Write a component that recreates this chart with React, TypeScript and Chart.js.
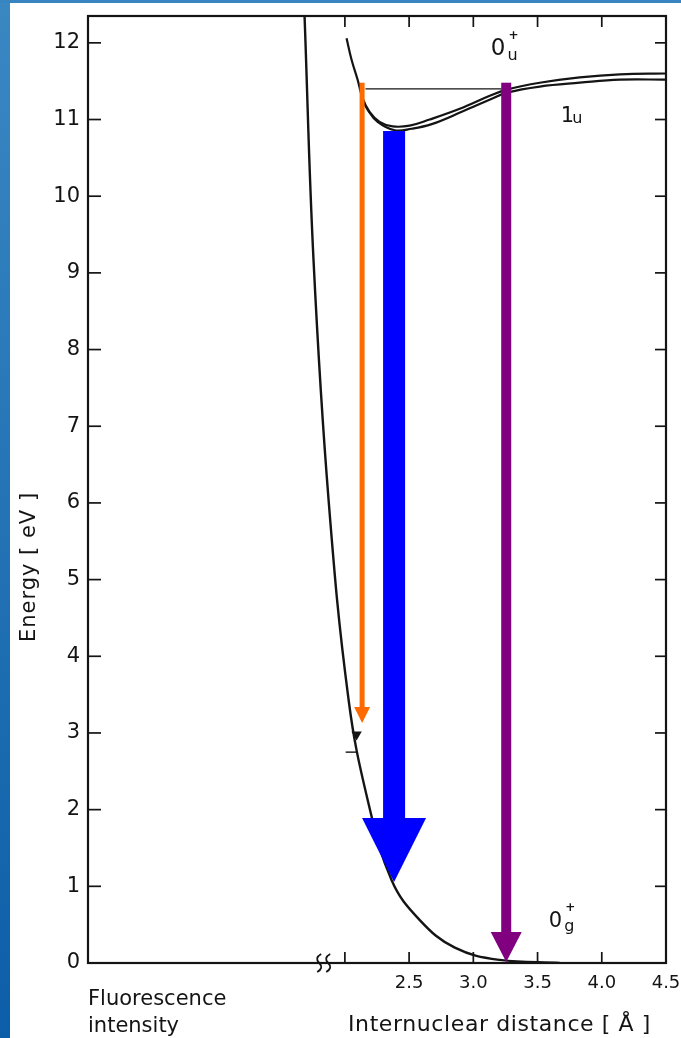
import React, { useEffect, useRef } from 'react';
import { Chart, registerables } from 'chart.js';

Chart.register(...registerables);

// ---- data (x: internuclear distance [Å], y: energy [eV]) ----
const groundX = [1.686, 1.756, 1.873, 2.029, 2.177, 2.364, 2.583, 2.856, 3.206, 3.673];
const groundY = [12.35, 9.16, 6.04, 3.43, 2.13, 1.08, 0.56, 0.2, 0.04, 0.0];

const upperX = [2.013, 2.052, 2.099, 2.138, 2.192, 2.27, 2.372, 2.504, 2.66, 2.894, 3.128, 3.26, 3.517, 3.829, 4.141, 4.5];
const upperY = [12.06, 11.78, 11.52, 11.28, 11.1, 10.97, 10.91, 10.92, 11.0, 11.14, 11.31, 11.39, 11.48, 11.55, 11.59, 11.6];

const lowerX = [2.13, 2.177, 2.255, 2.388, 2.52, 2.676, 2.91, 3.144, 3.26, 3.517, 3.829, 4.141, 4.5];
const lowerY = [11.28, 11.13, 10.97, 10.86, 10.88, 10.94, 11.1, 11.27, 11.35, 11.43, 11.48, 11.52, 11.52];

const levelX = [2.16, 3.22];
const levelY = [11.4, 11.4];

const markX = [2.006, 2.091];
const markY = [2.75, 2.75];
const headMarkX = [2.091];
const headMarkY = [2.98];

const arrowX = [2.134, 2.383, 3.256];
const arrowFrom = [11.48, 10.85, 11.48];
const arrowTo = [3.13, 1.057, 0.013];

const xTickValues = [2.0, 2.5, 3.0, 3.5, 4.0, 4.5];
const xTickLabels = ['', '2.5', '3.0', '3.5', '4.0', '4.5'];
const yTickValues = [0, 1, 2, 3, 4, 5, 6, 7, 8, 9, 10, 11, 12];
const yTickLabels = ['0', '1', '2', '3', '4', '5', '6', '7', '8', '9', '10', '11', '12'];
const breakX = [1.8, 1.87];

const stateMain = ['0', '1', '0'];
const stateSub = ['u', 'u', 'g'];
const stateSup = ['+', '', '+'];
const stateX = [3.136, 3.681, 3.588];
const stateY = [11.84, 10.97, 0.47];

const yTitle = 'Energy [ eV ]';
const xTitle = 'Internuclear distance [ Å ]';
const leftNote = ['Fluorescence', 'intensity'];

// ---- styles ----
const FONT = '"DejaVu Sans", sans-serif';
const INK = '#141414';
const arrowColors = ['#ff6a00', '#0000ff', '#800080'];
const arrowShaft = [5, 22, 10];
const arrowHeadW = [16, 64, 31];
const arrowHeadL = [16, 64, 30];
const stateMainSize = [23, 21, 21];
const stateSubDx = [2, -2, 2];
const stateSubDy = [5, 1, 4];

const pts = (xs: number[], ys: number[]) => xs.map((v, i) => ({ x: v, y: ys[i] }));

const figurePlugin = {
  id: 'figure',
  beforeDatasetsDraw(chart: any) {
    const { ctx, chartArea: a, scales } = chart;
    const x = scales.x, y = scales.y;
    ctx.save();
    ctx.strokeStyle = INK;
    ctx.lineWidth = 2.2;
    ctx.strokeRect(a.left, a.top, a.right - a.left, a.bottom - a.top);
    ctx.lineWidth = 1.7;
    const seg = (x1: number, y1: number, x2: number, y2: number) => {
      ctx.beginPath(); ctx.moveTo(x1, y1); ctx.lineTo(x2, y2); ctx.stroke();
    };
    yTickValues.forEach((v) => {
      if (v === 0) return;
      const py = y.getPixelForValue(v);
      seg(a.left, py, a.left + 13, py);
      seg(a.right - 11, py, a.right, py);
    });
    xTickValues.forEach((v) => {
      if (v >= 4.5) return;
      const px = x.getPixelForValue(v);
      seg(px, a.bottom, px, a.bottom - 11);
      seg(px, a.top, px, a.top + 11);
    });
    // axis break
    ctx.lineWidth = 1.8;
    breakX.forEach((v) => {
      const px = x.getPixelForValue(v);
      const py = a.bottom;
      ctx.beginPath();
      ctx.moveTo(px + 2, py - 9);
      ctx.quadraticCurveTo(px - 5, py - 5, px, py);
      ctx.quadraticCurveTo(px + 5, py + 5, px - 2, py + 9);
      ctx.stroke();
    });
    ctx.restore();
  },
  afterDatasetsDraw(chart: any) {
    const { ctx, chartArea: a, scales } = chart;
    const x = scales.x, y = scales.y;
    ctx.save();
    // arrows
    arrowX.forEach((xv, i) => {
      const px = x.getPixelForValue(xv);
      const top = y.getPixelForValue(arrowFrom[i]);
      const tip = y.getPixelForValue(arrowTo[i]);
      const base = tip - arrowHeadL[i];
      ctx.fillStyle = arrowColors[i];
      ctx.fillRect(px - arrowShaft[i] / 2, top, arrowShaft[i], base - top + 0.5);
      ctx.beginPath();
      ctx.moveTo(px - arrowHeadW[i] / 2, base);
      ctx.lineTo(px + arrowHeadW[i] / 2, base);
      ctx.lineTo(px, tip);
      ctx.closePath();
      ctx.fill();
    });
    // state labels
    ctx.fillStyle = INK;
    ctx.textBaseline = 'alphabetic';
    ctx.textAlign = 'left';
    stateMain.forEach((m, i) => {
      const px = x.getPixelForValue(stateX[i]);
      const py = y.getPixelForValue(stateY[i]);
      ctx.font = `${stateMainSize[i]}px ${FONT}`;
      const w = ctx.measureText(m).width;
      ctx.fillText(m, px, py);
      ctx.font = `16px ${FONT}`;
      const sx = px + w + stateSubDx[i];
      ctx.fillText(stateSub[i], sx, py + stateSubDy[i]);
      if (stateSup[i]) {
        ctx.font = `bold 12px ${FONT}`;
        ctx.textAlign = 'center';
        ctx.fillText(stateSup[i], sx + 6, py - 16);
        ctx.textAlign = 'left';
      }
    });
    // titles
    ctx.font = `21px ${FONT}`;
    ctx.fillText(leftNote[0], a.left, 1005);
    ctx.fillText(leftNote[1], a.left, 1032);
    ctx.font = `22px ${FONT}`;
    (ctx as any).letterSpacing = '0.6px';
    ctx.fillText(xTitle, 348, 1031);
    ctx.translate(35, 567);
    ctx.rotate(-Math.PI / 2);
    ctx.textAlign = 'center';
    (ctx as any).letterSpacing = '1px';
    ctx.font = `21px ${FONT}`;
    ctx.fillText(yTitle, 0, 0);
    ctx.restore();
  },
};

export default function App() {
  const ref = useRef<HTMLCanvasElement>(null);
  useEffect(() => {
    const canvas = ref.current;
    if (!canvas) return;
    const line = (data: any, width: number, tension: number) => ({
      data,
      borderColor: INK,
      borderWidth: width,
      pointRadius: 0,
      fill: false,
      tension,
    });
    const chart = new Chart(canvas, {
      type: 'line',
      data: {
        datasets: [
          line(pts(groundX, groundY), 2.4, 0.4),
          line(pts(upperX, upperY), 2.2, 0.4),
          line(pts(lowerX, lowerY), 2.2, 0.4),
          line(pts(levelX, levelY), 1.2, 0),
          line(pts(markX, markY), 1.4, 0),
          {
            data: pts(headMarkX, headMarkY),
            showLine: false,
            pointStyle: 'triangle',
            rotation: 180,
            pointRadius: 6,
            backgroundColor: INK,
            borderColor: INK,
            borderWidth: 0,
          } as any,
        ],
      },
      options: {
        animation: false,
        responsive: false,
        devicePixelRatio: 1,
        layout: { padding: { top: 16, right: 15, left: 0, bottom: 0 } },
        plugins: { legend: { display: false }, tooltip: { enabled: false } },
        scales: {
          x: {
            type: 'linear',
            min: 0,
            max: 4.5,
            grid: { display: false, drawTicks: false },
            border: { display: false },
            afterBuildTicks: (s: any) => { s.ticks = xTickValues.map((v) => ({ value: v })); },
            afterFit: (s: any) => { s.height = 75; s.paddingLeft = 0; s.paddingRight = 0; },
            ticks: {
              autoSkip: false,
              maxRotation: 0,
              padding: 10,
              color: INK,
              font: { family: FONT, size: 18 },
              callback: (_v: any, i: number) => xTickLabels[i],
            },
          },
          y: {
            type: 'linear',
            min: 0,
            max: 12.35,
            grid: { display: false, drawTicks: false },
            border: { display: false },
            afterBuildTicks: (s: any) => { s.ticks = yTickValues.map((v) => ({ value: v })); },
            afterFit: (s: any) => { s.width = 88; s.paddingTop = 0; s.paddingBottom = 0; },
            ticks: {
              autoSkip: false,
              padding: 8,
              color: INK,
              font: { family: FONT, size: 21 },
              callback: (_v: any, i: number) => yTickLabels[i],
            },
          },
        },
      },
      plugins: [figurePlugin],
    });
    return () => chart.destroy();
  }, []);

  return (
    <div style={{ position: 'fixed', left: 0, top: 0, width: 681, height: 1038, background: '#fff', overflow: 'hidden' }}>
      <div style={{ position: 'absolute', left: 0, top: 0, width: 10, height: 1038, background: 'linear-gradient(#3a88c2, #0d5ea8)' }} />
      <div style={{ position: 'absolute', left: 0, top: 0, width: 681, height: 3, background: '#3685c0' }} />
      <canvas ref={ref} width={681} height={1038} style={{ position: 'absolute', left: 0, top: 0, width: 681, height: 1038 }} />
    </div>
  );
}
